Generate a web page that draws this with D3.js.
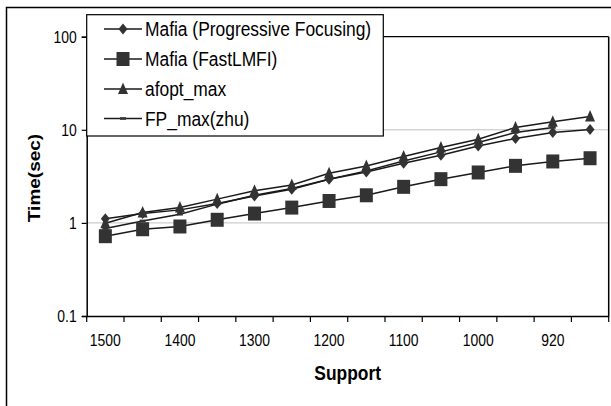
<!DOCTYPE html>
<html><head><meta charset="utf-8">
<script src="https://cdn.jsdelivr.net/npm/d3@7"></script>
<style>html,body{margin:0;padding:0;background:#fff;overflow:hidden}svg{display:block}</style>
</head><body>
<svg id="c" width="611" height="406"></svg>
<script>
const categories = ["1500","1450","1400","1350","1300","1250","1200","1150","1100","1050","1000","960","920","880"];
const shownLabels = ["1500","1400","1300","1200","1100","1000","920"];
const progressive = [1.11,1.26,1.38,1.62,1.95,2.30,2.95,3.53,4.38,5.33,6.71,8.07,9.35,10.1];
const fastLMFI    = [0.72,0.855,0.915,1.08,1.26,1.46,1.72,1.98,2.44,2.95,3.48,4.1,4.57,4.95];
const afopt       = [0.99,1.29,1.46,1.80,2.21,2.56,3.42,4.09,5.17,6.45,7.93,10.6,12.2,13.9];
const fpmax       = [0.87,1.05,1.24,1.59,1.98,2.34,2.95,3.62,4.63,5.79,7.3,9.35,10.6,null];
const seriesNames = ["Mafia (Progressive Focusing)","Mafia (FastLMFI)","afopt_max","FP_max(zhu)"];
const yTicks = [0.1,1,10,100];
const yTickLabels = ["0.1","1","10","100"];

const SX = 0.87; // horizontal squeeze of text in reference
const svg = d3.select("#c");
const pLeft = 86.7, pRight = 608.7, pTop = 36.7, pBottom = 316;
const x = d3.scaleBand().domain(categories).range([pLeft,pRight]).padding(0);
const y = d3.scaleLog().domain([0.1,100]).range([pBottom,pTop]);
const cx = d => x(d) + x.bandwidth()/2;
const ink = "#1a1a1a", mk = "#333";

// outer border
svg.append("rect").attr("x",6.5).attr("y",7.5).attr("width",700).attr("height",500)
  .attr("fill","#fff").attr("stroke","#000").attr("stroke-width",1.5);

// gridlines
svg.append("g").selectAll("line").data([1,10]).join("line")
  .attr("x1",pLeft).attr("x2",pRight).attr("y1",d=>y(d)).attr("y2",d=>y(d))
  .attr("stroke","#c0c0c0").attr("stroke-width",1);

// plot border top & right
svg.append("line").attr("x1",pLeft).attr("x2",pRight).attr("y1",y(100)).attr("y2",y(100)).attr("stroke","#000").attr("stroke-width",1.2);
svg.append("line").attr("x1",pRight).attr("x2",pRight).attr("y1",pTop).attr("y2",pBottom).attr("stroke","#000").attr("stroke-width",1.5);

// y axis
const yAxis = svg.append("g").attr("transform",`translate(${pLeft},0)`)
  .call(d3.axisLeft(y).tickValues(yTicks).tickSize(5).tickPadding(10)
    .tickFormat((d,i)=>yTickLabels[i]));
yAxis.select(".domain").attr("stroke","#000").attr("stroke-width",1.5);
yAxis.selectAll(".tick line").attr("stroke","#000").attr("stroke-width",1.2);
yAxis.selectAll(".tick text").attr("font-family","Liberation Sans, Arial, sans-serif")
  .attr("font-size",16).attr("fill","#000")
  .attr("x",-10/SX).attr("dy","0.34em").attr("transform",`scale(${SX},1)`);

// x axis (labels at centres, ticks at boundaries)
const xAxis = svg.append("g").attr("transform",`translate(0,${pBottom})`)
  .call(d3.axisBottom(x).tickSize(0).tickPadding(19)
    .tickFormat(d=>shownLabels.includes(d)?d:""));
xAxis.select(".domain").attr("stroke","#000").attr("stroke-width",1.5);
xAxis.selectAll(".tick text").attr("font-family","Liberation Sans, Arial, sans-serif")
  .attr("font-size",16).attr("fill","#000").attr("transform",`scale(${SX},1)`);
const bounds = categories.map(c=>x(c)).concat([x(categories[categories.length-1])+x.bandwidth()]);
xAxis.append("g").selectAll("line").data(bounds).join("line")
  .attr("x1",d=>d).attr("x2",d=>d).attr("y1",0).attr("y2",6)
  .attr("stroke","#000").attr("stroke-width",1.2);

// axis titles
svg.append("text").attr("transform",`translate(39.5,178) scale(${SX},1) rotate(-90)`)
  .attr("text-anchor","middle").attr("font-family","Liberation Sans, Arial, sans-serif")
  .attr("font-weight","bold").attr("font-size",19).text("Time(sec)");
svg.append("text").attr("transform",`translate(347.7,380) scale(${SX},1)`)
  .attr("text-anchor","middle").attr("font-family","Liberation Sans, Arial, sans-serif")
  .attr("font-weight","bold").attr("font-size",20).text("Support");

// marker shapes
const markerPath = {
  diamond: "M0,-5.5L4.5,0L0,5.5L-4.5,0Z",
  square: "M-6.5,-7L6.5,-7L6.5,7L-6.5,7Z",
  triangle: "M0,-6.5L5,5L-5,5Z",
  dash: "M-3,-1.3L3,-1.3L3,1.3L-3,1.3Z"
};
const series = [
  {name:seriesNames[0], values:progressive, m:"diamond"},
  {name:seriesNames[1], values:fastLMFI, m:"square"},
  {name:seriesNames[2], values:afopt, m:"triangle"},
  {name:seriesNames[3], values:fpmax, m:"dash"}
];
const line = d3.line().defined(d=>d[1]!=null).x(d=>cx(d[0])).y(d=>y(d[1]));
const order = [3,1,0,2];
order.forEach(k=>{
  const s = series[k];
  const pts = categories.map((c,i)=>[c,s.values[i]]);
  svg.append("path").attr("d",line(pts)).attr("fill","none").attr("stroke",ink).attr("stroke-width",1.5);
});
order.forEach(k=>{
  const s = series[k];
  const pts = categories.map((c,i)=>[c,s.values[i]]).filter(d=>d[1]!=null);
  svg.append("g").selectAll("path").data(pts).join("path")
    .attr("d",markerPath[s.m]).attr("transform",d=>`translate(${cx(d[0])},${y(d[1])})`)
    .attr("fill",mk);
});

// legend
const lg = svg.append("g");
lg.append("rect").attr("x",86.7).attr("y",14.7).attr("width",296.6).attr("height",121.3)
  .attr("fill","#fff").attr("stroke","#000").attr("stroke-width",1.2);
const rowY = [29,59,89,118.5];
series.forEach((s,i)=>{
  lg.append("line").attr("x1",104).attr("x2",142).attr("y1",rowY[i]).attr("y2",rowY[i]).attr("stroke",ink).attr("stroke-width",1.5);
  lg.append("path").attr("d",markerPath[s.m]).attr("transform",`translate(123,${rowY[i]})`).attr("fill",mk);
  lg.append("text").attr("transform",`translate(145,${rowY[i]+7}) scale(${SX},1)`)
    .attr("font-family","Liberation Sans, Arial, sans-serif").attr("font-size",20).attr("fill","#000")
    .text(s.name);
});
</script>
</body></html>
